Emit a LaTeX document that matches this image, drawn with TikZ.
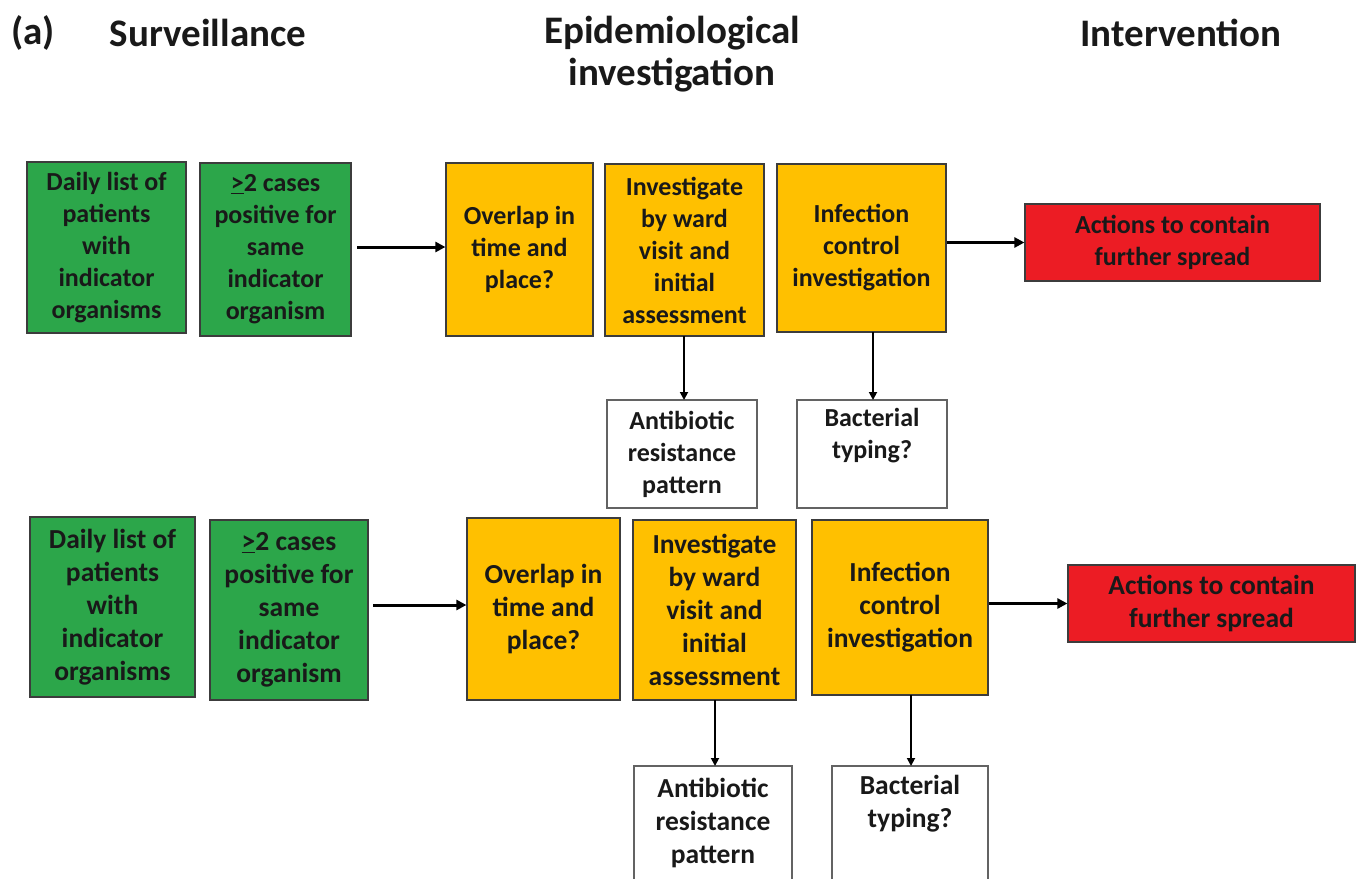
\documentclass[tikz,border=0pt]{standalone}
\usepackage{fontspec}
\setmainfont{Carlito}
\usetikzlibrary{arrows.meta}
\definecolor{boxgreen}{RGB}{44,166,74}
\definecolor{boxyellow}{RGB}{255,192,0}
\definecolor{boxred}{RGB}{236,28,36}
\definecolor{edgegray}{RGB}{60,60,60}
\definecolor{inktext}{RGB}{25,25,25}
\tikzset{
  box/.style={draw=edgegray, line width=1.2pt, align=center, inner sep=0pt,
    text=inktext, font=\bfseries\fontsize{26}{32}\selectfont},
  gbox/.style={box, fill=boxgreen},
  ybox/.style={box, fill=boxyellow},
  rbox/.style={box, fill=boxred},
  wbox/.style={box, fill=white, draw=edgegray!80},
  big/.style={font=\bfseries\fontsize{27.5}{33}\selectfont},
  head/.style={font=\bfseries\fontsize{39}{42}\selectfont, text=black!90, align=center},
  harrow/.style={line width=3pt, -{Triangle[length=10pt,width=10pt]}},
  varrow/.style={line width=1.8pt, -{Triangle[length=8pt,width=8pt]}}
}
% rectangle helper: style, name, left, right, top, bottom, text
\newcommand{\bx}[7]{\node[#1, minimum width={#4-#3}, minimum height={#6-#5}]
  (#2) at ({(#3+#4)/2},{(#5+#6)/2}) {#7};}
\begin{document}
\begin{tikzpicture}[x=1pt,y=-1pt]
\useasboundingbox (0,0) rectangle (1365,878);

% column headings
\node[head, anchor=west] (lbl) at (8,33) {(a)};
\node[head] (hsurv) at (208,33) {Surveillance};
\node[head] (hepi) at (672,54) {Epidemiological\\investigation};
\node[head] (hint) at (1181,33) {Intervention};

% ---------- upper row ----------
\bx{gbox}{ga}{27}{186}{162}{333}{Daily list of\\patients\\with\\indicator\\organisms}
\bx{gbox}{gb}{200}{351}{163}{336}{\underline{>}2 cases\\positive for\\same\\indicator\\organism}
\bx{ybox}{ya}{446}{593}{163}{336}{Overlap in\\time and\\place?}
\bx{ybox}{yb}{605}{764}{164}{336}{Investigate\\by ward\\visit and\\initial\\assessment}
\bx{ybox}{yc}{777}{946}{164}{332}{Infection\\control\\investigation}
\bx{rbox}{ra}{1025}{1320}{204}{281}{Actions to contain\\further spread}
\bx{wbox}{wa}{607}{757}{400}{508}{Antibiotic\\resistance\\pattern}
\bx{wbox}{wb}{797}{947}{400}{508}{Bacterial\\typing?\\\strut}

\coordinate (s1) at (357,247);
\draw[harrow] (s1) -- (ya.west |- s1);
\draw[harrow] (yc.east |- ra.west) -- (ra.west);
\draw[varrow] (684,336) -- (684,400);
\draw[varrow] (873,332) -- (873,400);

% ---------- lower row ----------
\bx{gbox,big}{gc}{30}{195}{517}{697}{Daily list of\\patients\\with\\indicator\\organisms}
\bx{gbox,big}{gd}{210}{368}{520}{700}{\underline{>}2 cases\\positive for\\same\\indicator\\organism}
\bx{ybox,big}{yd}{467}{620}{518}{700}{Overlap in\\time and\\place?}
\bx{ybox,big}{ye}{633}{796}{520}{700}{Investigate\\by ward\\visit and\\initial\\assessment}
\bx{ybox,big}{yf}{812}{988}{520}{695}{Infection\\control\\investigation}
\bx{rbox,big}{rb}{1068}{1355}{565}{642}{Actions to contain\\further spread}
\bx{wbox,big}{wc}{634}{792}{766}{880}{Antibiotic\\resistance\\pattern}
\bx{wbox,big}{wd}{832}{988}{766}{880}{Bacterial\\typing?\\\strut}

\coordinate (s2) at (373,605);
\draw[harrow] (s2) -- (yd.west |- s2);
\draw[harrow] (yf.east |- rb.west) -- (rb.west);
\draw[varrow] (715,700) -- (715,766);
\draw[varrow] (911,695) -- (911,766);
\end{tikzpicture}
\end{document}
